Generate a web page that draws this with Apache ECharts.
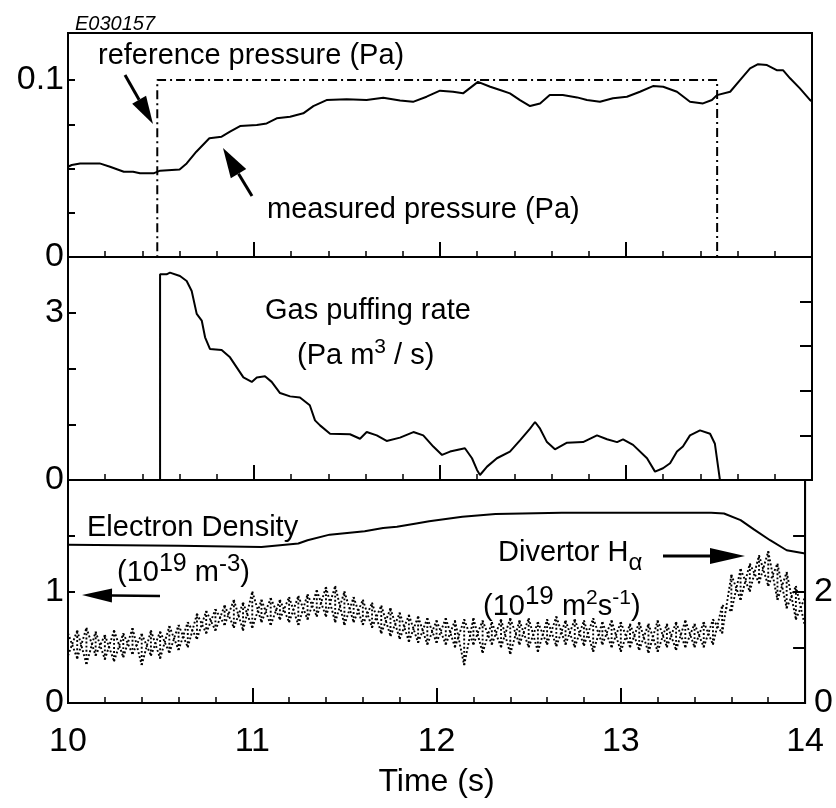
<!DOCTYPE html>
<html><head><meta charset="utf-8">
<script src="https://cdn.jsdelivr.net/npm/echarts@6/dist/echarts.min.js"></script>
<style>html,body{margin:0;padding:0;background:#fff}#c{width:836px;height:808px}</style>
</head><body><div id="c"></div>
<script>
// ---------------- data ----------------
const timeTicks = [10, 11, 12, 13, 14];
const refPressure = [[10,0],[10.48,0],[10.48,0.1],[13.49,0.1],[13.49,0],[14,0]];
const measPressure = [[10.0,0.051],[10.02,0.052],[10.065,0.0529],[10.17,0.0529],[10.226,0.051],[10.30,0.0482],[10.35,0.0482],[10.387,0.0473],[10.46,0.0473],[10.495,0.0488],[10.60,0.0495],[10.638,0.0529],[10.69,0.0595],[10.76,0.0671],[10.826,0.068],[10.871,0.0708],[10.925,0.074],[11.015,0.0746],[11.068,0.0755],[11.122,0.0784],[11.194,0.0793],[11.265,0.0812],[11.319,0.0853],[11.39,0.0887],[11.498,0.0891],[11.605,0.0887],[11.695,0.09],[11.785,0.0885],[11.855,0.0877],[11.928,0.0906],[12.0,0.094],[12.07,0.0934],[12.124,0.0925],[12.204,0.099],[12.27,0.0962],[12.323,0.0944],[12.376,0.0925],[12.43,0.0887],[12.484,0.0853],[12.538,0.0868],[12.59,0.0915],[12.66,0.0915],[12.737,0.0902],[12.79,0.0887],[12.86,0.0877],[12.93,0.0897],[13.005,0.0906],[13.075,0.0934],[13.145,0.0966],[13.2,0.0962],[13.274,0.0934],[13.344,0.0877],[13.414,0.0868],[13.462,0.0887],[13.489,0.0915],[13.56,0.0934],[13.613,0.1],[13.667,0.1066],[13.71,0.109],[13.758,0.1085],[13.81,0.1056],[13.844,0.1056],[13.882,0.101],[13.935,0.0953],[13.99,0.0887],[14.0,0.088]];
const gasRate = [[10,0],[10.495,0],[10.495,3.69],[10.53,3.69],[10.548,3.72],[10.602,3.66],[10.638,3.57],[10.665,3.39],[10.692,2.98],[10.719,2.86],[10.737,2.56],[10.763,2.35],[10.826,2.33],[10.871,2.20],[10.907,2.02],[10.943,1.84],[10.988,1.76],[11.015,1.84],[11.059,1.86],[11.095,1.76],[11.14,1.56],[11.194,1.50],[11.247,1.48],[11.30,1.34],[11.328,1.07],[11.355,0.98],[11.409,0.83],[11.516,0.82],[11.57,0.74],[11.606,0.86],[11.66,0.80],[11.713,0.70],[11.785,0.76],[11.857,0.86],[11.91,0.80],[11.964,0.60],[12.011,0.45],[12.054,0.51],[12.134,0.57],[12.172,0.39],[12.199,0.18],[12.215,0.09],[12.253,0.24],[12.306,0.39],[12.376,0.51],[12.43,0.71],[12.484,0.92],[12.511,1.04],[12.538,0.92],[12.575,0.68],[12.618,0.55],[12.683,0.67],[12.769,0.68],[12.844,0.80],[12.898,0.73],[12.952,0.68],[12.984,0.73],[13.038,0.63],[13.113,0.39],[13.156,0.15],[13.199,0.21],[13.237,0.30],[13.274,0.51],[13.306,0.60],[13.344,0.80],[13.398,0.89],[13.452,0.83],[13.478,0.65],[13.495,0.24],[13.505,0],[14,0]];
const electronDensity = [[10,1.42],[10.6,1.41],[11.05,1.40],[11.25,1.43],[11.30,1.46],[11.42,1.51],[11.61,1.54],[11.71,1.57],[11.785,1.58],[11.89,1.61],[11.96,1.63],[12.14,1.67],[12.32,1.695],[12.68,1.707],[13.49,1.707],[13.56,1.70],[13.65,1.64],[13.72,1.56],[13.81,1.46],[13.90,1.37],[14.0,1.34]];
// Divertor H-alpha band: [time, low, high]
const halpha = [[10.00,.85,1.25],[10.05,.80,1.30],[10.10,.70,1.35],[10.15,.85,1.28],[10.20,.78,1.22],[10.25,.75,1.30],[10.30,.82,1.25],[10.35,.88,1.34],[10.40,.68,1.24],[10.45,.85,1.30],[10.50,.80,1.28],[10.55,.90,1.38],[10.60,.95,1.40],[10.65,1.00,1.45],[10.70,1.15,1.60],[10.75,1.25,1.65],[10.80,1.30,1.68],[10.85,1.40,1.75],[10.90,1.35,1.85],[10.95,1.30,1.80],[11.00,1.35,2.00],[11.05,1.45,1.85],[11.10,1.40,1.88],[11.15,1.50,1.85],[11.20,1.45,1.90],[11.25,1.40,1.92],[11.30,1.50,1.95],[11.35,1.55,2.02],[11.40,1.55,2.08],[11.45,1.45,2.10],[11.50,1.40,2.00],[11.55,1.45,1.90],[11.60,1.40,1.85],[11.65,1.35,1.80],[11.70,1.25,1.75],[11.75,1.20,1.70],[11.80,1.15,1.62],[11.85,1.10,1.58],[11.90,1.08,1.55],[11.95,1.05,1.52],[12.00,1.08,1.48],[12.05,1.05,1.52],[12.10,1.00,1.48],[12.15,0.68,1.50],[12.20,1.05,1.52],[12.25,0.90,1.48],[12.30,1.05,1.45],[12.35,1.00,1.50],[12.40,0.88,1.52],[12.45,1.05,1.48],[12.50,1.00,1.52],[12.55,0.92,1.45],[12.60,1.05,1.50],[12.65,1.02,1.55],[12.70,1.05,1.48],[12.75,1.00,1.50],[12.80,1.03,1.48],[12.85,0.92,1.52],[12.90,1.05,1.45],[12.95,1.00,1.48],[13.00,0.92,1.45],[13.05,1.00,1.42],[13.10,0.95,1.45],[13.15,0.90,1.42],[13.20,0.92,1.48],[13.25,1.00,1.42],[13.30,0.95,1.45],[13.35,1.00,1.48],[13.40,1.00,1.42],[13.45,1.00,1.45],[13.50,1.05,1.50],[13.55,1.25,1.75],[13.60,1.65,2.30],[13.65,1.85,2.40],[13.70,2.00,2.50],[13.75,2.15,2.65],[13.80,2.10,2.72],[13.85,1.85,2.50],[13.90,1.70,2.35],[13.95,1.50,2.10],[14.00,1.37,1.90]];
// axis ticks/labels
const p1Ticks = [0.025, 0.05, 0.075, 0.1], p1Labels = [0, 0.1];
const p2Ticks = [1, 2, 3], p2Labels = [0, 3];
const p2RightTicks = [1, 2, 3, 4];
const p3Ticks = [1, 1.5], p3Labels = [0, 1];
const p3RightTicks = [1, 2, 3], p3RightLabels = [0, 2];

// ---------------- chart ----------------
const FONT = '"Liberation Sans", Arial, Helvetica, sans-serif';
const BLACK = '#000';
const TICKFS = 34;
const L = 68, W = 744;
const grids = [
  {left: L, top: 33, width: W, height: 224},
  {left: L, top: 257, width: W, height: 223},
  {left: L, top: 480, width: W, height: 223}
].map(g => Object.assign(g, {show: true, borderColor: BLACK, borderWidth: 2, backgroundColor: 'transparent'}));

function xAx(i) {
  return {
    type: 'value', gridIndex: i, min: 10, max: 14, interval: 1,
    axisLine: {show: true, onZero: false, lineStyle: {color: BLACK, width: 2}},
    axisTick: {show: true, inside: true, length: 15, lineStyle: {color: BLACK, width: 2}},
    minorTick: {show: true, splitNumber: 5, length: 6, lineStyle: {color: BLACK, width: 1.5}},
    splitLine: {show: false}, minorSplitLine: {show: false},
    axisLabel: {show: i === 2, color: BLACK, fontSize: TICKFS, fontFamily: FONT, margin: 22,
      customValues: timeTicks, formatter: v => String(Math.round(v))},
    name: i === 2 ? 'Time (s)' : '', nameLocation: 'middle', nameGap: 63,
    nameTextStyle: {color: BLACK, fontSize: 32, fontFamily: FONT}
  };
}
function near(a, arr) { return arr.some(b => Math.abs(a - b) < 1e-9); }
function yAx(grid, pos, min, max, interval, ticks, labels, tickLen, fmt) {
  return {
    type: 'value', gridIndex: grid, position: pos, min, max, interval,
    axisLine: {show: true, onZero: false, lineStyle: {color: BLACK, width: 2}},
    axisTick: {show: true, inside: true, length: tickLen, customValues: ticks,
      lineStyle: {color: BLACK, width: 2}},
    splitLine: {show: false},
    axisLabel: {show: labels.length > 0, color: BLACK, fontSize: TICKFS, fontFamily: FONT,
      margin: pos === 'left' ? 4 : 9, customValues: labels,
      formatter: v => near(v, labels) ? (fmt ? fmt(v) : String(v)) : ''}
  };
}

const chart = echarts.init(document.getElementById('c'), null, {renderer: 'canvas'});

// text helpers for super/subscript annotations
const mctx = document.createElement('canvas').getContext('2d');
function tw(t, s) { mctx.font = s + 'px ' + FONT; return mctx.measureText(t).width; }
function compose(x, midY, parts) {
  const out = []; let cx = x;
  parts.forEach(p => {
    out.push({type: 'text', x: cx, y: midY + (p.dy || 0),
      style: {text: p.t, fontSize: p.s, fontFamily: FONT, fill: BLACK, verticalAlign: 'middle', align: 'left'}});
    cx += tw(p.t, p.s);
  });
  return out;
}
function arrow(x1, y1, x2, y2, headLen, headHalf, lw) {
  const dx = x2 - x1, dy = y2 - y1, len = Math.hypot(dx, dy);
  const ux = dx / len, uy = dy / len, px = -uy, py = ux;
  const bx = x2 - ux * headLen, by = y2 - uy * headLen;
  return [
    {type: 'line', shape: {x1, y1, x2: bx, y2: by}, style: {stroke: BLACK, lineWidth: lw}},
    {type: 'polygon', shape: {points: [[x2, y2], [bx + px * headHalf, by + py * headHalf], [bx - px * headHalf, by - py * headHalf]]},
      style: {fill: BLACK}}
  ];
}

const S = 29;
const graphics = [].concat(
  [{type: 'text', x: 75, y: 24, style: {text: 'E030157', fontSize: 20, fontStyle: 'italic', fontFamily: FONT, fill: BLACK, verticalAlign: 'middle'}}],
  compose(98, 56, [{t: 'reference pressure (Pa)', s: S}]),
  arrow(125, 75, 153, 124, 28, 8, 3),
  compose(267, 210, [{t: 'measured pressure (Pa)', s: S}]),
  arrow(252, 196, 223, 148, 30, 9, 3),
  compose(265, 311, [{t: 'Gas puffing rate', s: S}]),
  compose(297, 356, [{t: '(Pa m', s: S}, {t: '3', s: 21, dy: -9}, {t: ' / s)', s: S}]),
  compose(87, 528, [{t: 'Electron Density', s: S}]),
  compose(117, 573, [{t: '(10', s: S}, {t: '19', s: 25, dy: -9}, {t: ' m', s: S}, {t: '-3', s: 24, dy: -9}, {t: ')', s: S}]),
  arrow(160, 596, 82, 595, 30, 7, 2.5),
  compose(498, 553, [{t: 'Divertor H', s: S}, {t: 'α', s: 24, dy: 10}]),
  arrow(663, 556, 745, 556, 35, 8, 3),
  compose(483, 607, [{t: '(10', s: S}, {t: '19', s: 26, dy: -10}, {t: ' m', s: S}, {t: '2', s: 21, dy: -9}, {t: 's', s: S}, {t: '-1', s: 21, dy: -9}, {t: ')', s: S}])
);

const option = {
  animation: false,
  backgroundColor: '#fff',
  grid: grids,
  xAxis: [xAx(0), xAx(1), xAx(2)],
  yAxis: [
    yAx(0, 'left', 0, 0.1266, 0.025, p1Ticks, p1Labels, 7, v => v === 0 ? '0' : '0.1'),
    yAx(1, 'left', 0, 4, 1, p2Ticks, p2Labels, 8),
    yAx(1, 'right', 0, 5, 1, p2RightTicks, [], 12),
    yAx(2, 'left', 0, 2, 0.5, p3Ticks, p3Labels, 7),
    yAx(2, 'right', 0, 4, 1, p3RightTicks, p3RightLabels, 12)
  ],
  series: [
    {type: 'line', name: 'reference pressure', xAxisIndex: 0, yAxisIndex: 0, data: refPressure, symbol: 'none',
      lineStyle: {color: BLACK, width: 2, type: [9, 4, 2, 4]}},
    {type: 'line', name: 'measured pressure', xAxisIndex: 0, yAxisIndex: 0, data: measPressure, symbol: 'none',
      lineStyle: {color: BLACK, width: 2}},
    {type: 'line', name: 'gas puffing rate', xAxisIndex: 1, yAxisIndex: 1, data: gasRate, symbol: 'none',
      lineStyle: {color: BLACK, width: 2}},
    {type: 'line', name: 'electron density', xAxisIndex: 2, yAxisIndex: 3, data: electronDensity, symbol: 'none',
      lineStyle: {color: BLACK, width: 2}},
    {type: 'custom', name: 'divertor Halpha', xAxisIndex: 2, yAxisIndex: 4, data: halpha,
      encode: {x: 0, y: [1, 2]}, clip: true,
      renderItem: function (params, api) {
        const i = params.dataIndex;
        const t = api.value(0), lo = api.value(1), hi = api.value(2);
        const a = api.coord([t, lo]), b = api.coord([t, hi]);
        const st = {stroke: BLACK, lineWidth: 1.9, lineDash: [1.9, 2.2]};
        const ch = [{type: 'line', shape: {x1: a[0], y1: a[1], x2: b[0], y2: b[1]}, style: st}];
        if (i < halpha.length - 1) {
          const n = halpha[i + 1];
          const c = api.coord([n[0], n[1]]), d = api.coord([n[0], n[2]]);
          ch.push({type: 'line', shape: {x1: a[0], y1: a[1], x2: d[0], y2: d[1]}, style: st});
          ch.push({type: 'line', shape: {x1: b[0], y1: b[1], x2: c[0], y2: c[1]}, style: st});
        }
        return {type: 'group', children: ch};
      }}
  ],
  graphic: graphics
};
chart.setOption(option);
</script>
</body></html>
